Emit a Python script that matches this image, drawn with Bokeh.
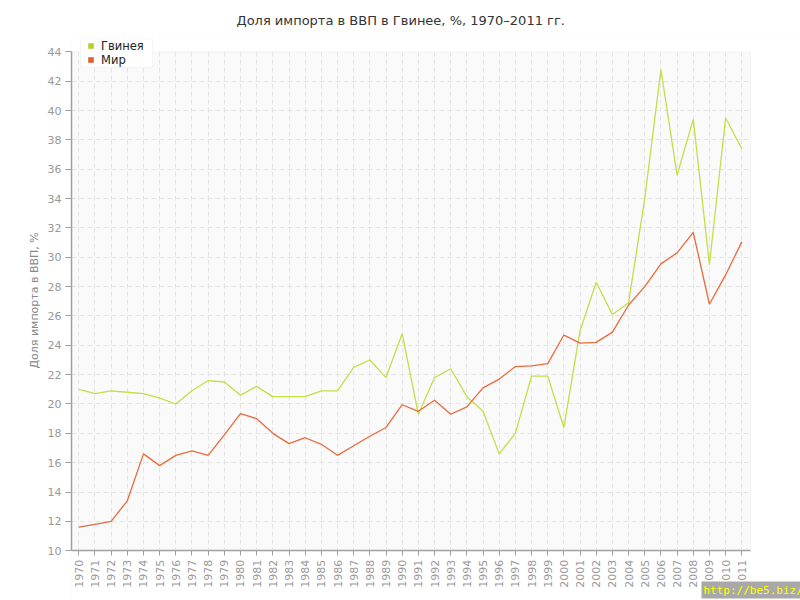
import math
from bokeh.plotting import figure
from bokeh.models import (SingleIntervalTicker, FixedTicker, Legend, LegendItem,
                          Label, Range1d, BoxAnnotation, Title)
from bokeh.embed import file_html
from bokeh.resources import INLINE

years = list(range(1970, 2012))
guinea = [21.0, 20.7, 20.9, 20.8, 20.7, 20.4, 20.0, 20.9, 21.6, 21.5,
          20.6, 21.2, 20.5, 20.5, 20.5, 20.9, 20.9, 22.5, 23.0, 21.8,
          24.8, 19.3, 21.8, 22.4, 20.5, 19.5, 16.6, 18.0, 21.9, 21.9,
          18.4, 25.0, 28.3, 26.1, 26.9, 34.0, 42.8, 35.6, 39.4, 29.5,
          39.5, 37.4]
world = [11.6, 11.8, 12.0, 13.4, 16.6, 15.8, 16.5, 16.8, 16.5, 17.9,
         19.35, 19.0, 18.0, 17.3, 17.7, 17.25, 16.5, 17.15, 17.8, 18.4,
         19.95, 19.5, 20.25, 19.3, 19.8, 21.1, 21.7, 22.55, 22.6, 22.75,
         24.7, 24.15, 24.2, 24.9, 26.75, 28.0, 29.55, 30.3, 31.7, 26.8,
         28.8, 31.05]
series_names = ["Гвинея", "Мир"]
series_colors = ["#c5dd48", "#e76b3c"]
legend_colors = ["#b3d12c", "#e0602e"]
y_min, y_max, y_step = 10, 44, 2

# ---- layout geometry (pixels) ----
W, H = 800, 600
frame_left, frame_right, frame_top, frame_bottom = 71, 800, 36, 600
plot_right_px, y_top_px, y_bot_px = 750, 49.5, 550
px_per_year = 16.17
first_year_px = 78.3
y_scale = (y_bot_px - y_top_px) / (y_max - y_min)

x_start = years[0] - (first_year_px - frame_left) / px_per_year
x_end = x_start + (frame_right - frame_left) / px_per_year
x_plot_end = x_start + (plot_right_px - frame_left) / px_per_year
y_start = y_min - (frame_bottom - y_bot_px) / y_scale
y_end = y_max + (y_top_px - frame_top) / y_scale


def px_to_x(px):
    return x_start + (px - frame_left) / px_per_year


def px_to_y(py):
    return y_max - (py - y_top_px) / y_scale


p = figure(width=W, height=H, output_backend="svg", toolbar_location=None,
           x_range=Range1d(x_start, x_end), y_range=Range1d(y_start, y_end),
           min_border_left=frame_left, min_border_right=W - frame_right,
           min_border_top=frame_top, min_border_bottom=H - frame_bottom)

p.title.text = "Доля импорта в ВВП в Гвинее, %, 1970–2011 гг."
p.title.align = "left"
p.title.offset = 165
p.title.standoff = 21
p.title.text_font = "DejaVu Sans"
p.title.text_font_size = "13px"
p.title.text_font_style = "normal"
p.title.text_color = "#333333"

p.background_fill_color = "#fafafa"
p.border_fill_color = "white"
p.outline_line_color = None

for g in (p.xgrid, p.ygrid):
    g.grid_line_color = "#e4e4e4"
    g.grid_line_dash = "5 3"
    g.grid_line_width = 1

# white covers outside the plotting area (over the grid)
for kw in (dict(bottom=y_max), dict(top=y_min), dict(left=x_plot_end)):
    p.add_layout(BoxAnnotation(fill_color="white", fill_alpha=1,
                               line_color=None, level="underlay", **kw))
p.add_layout(BoxAnnotation(left=x_start, right=x_plot_end, bottom=y_min,
                           top=y_max, fill_alpha=0, line_color="#dddddd",
                           line_width=1, level="underlay"))

p.xaxis.ticker = FixedTicker(ticks=years)
p.yaxis.ticker = SingleIntervalTicker(interval=y_step)
for ax in (p.xaxis, p.yaxis):
    ax.axis_line_color = "#a0a0a0"
    ax.axis_line_width = 1.5
    ax.major_tick_line_color = "#a0a0a0"
    ax.major_tick_in = 0
    ax.minor_tick_line_color = None
    ax.major_label_text_color = "#999999"
    ax.major_label_text_font = "DejaVu Sans"
    ax.major_label_text_font_size = "11px"
p.xaxis.fixed_location = y_min
p.xaxis.bounds = (x_start, x_plot_end)
p.yaxis.bounds = (y_min, y_max)
p.yaxis.major_tick_out = 6
p.xaxis.major_tick_out = 5
p.xaxis.major_label_orientation = math.pi / 2
p.xaxis.major_label_standoff = 4
p.yaxis.major_label_standoff = 4

ytitle = Title(text="Доля импорта в ВВП, %", align="left", offset=232,
               standoff=8, text_font="DejaVu Sans", text_font_size="11px",
               text_font_style="normal", text_color="#888888")
p.add_layout(ytitle, "left")

p.line(years, guinea, line_color=series_colors[0], line_width=1.3)
p.line(years, world, line_color=series_colors[1], line_width=1.3)

# legend box
p.add_layout(BoxAnnotation(left=px_to_x(80), right=px_to_x(152),
                           top=y_end, bottom=px_to_y(65),
                           fill_color="white", fill_alpha=1,
                           line_color="#e2e2e2", line_width=1))
# hidden swatch renderers (outside visible ranges) used only for legend squares
sq = [p.quad(left=[x_end + 1], right=[x_end + 2], top=[y_start - 1],
             bottom=[y_start - 2], fill_color=c, line_color=None)
      for c in legend_colors]
items = [LegendItem(label=n, renderers=[r]) for n, r in zip(series_names, sq)]
legend = Legend(items=items, location=(16, frame_bottom - 66.5),
                orientation="vertical",
                background_fill_alpha=0, border_line_color=None,
                label_text_font="DejaVu Sans",
                label_text_font_size="11.5px", label_text_color="#222222",
                glyph_width=7, glyph_height=7, label_standoff=7,
                label_height=12, spacing=0, padding=2, margin=0)
p.add_layout(legend, "center")

wm = Label(x=630, y=2, x_units="screen", y_units="screen",
           text="http://be5.biz/", text_color="#ffff00", text_baseline="bottom",
           text_font="DejaVu Sans Mono", text_font_size="11px",
           background_fill_color="#a8a8a8", background_fill_alpha=1,
           padding=2)
p.add_layout(wm)

open("out.html", "w").write(file_html(p, INLINE))
